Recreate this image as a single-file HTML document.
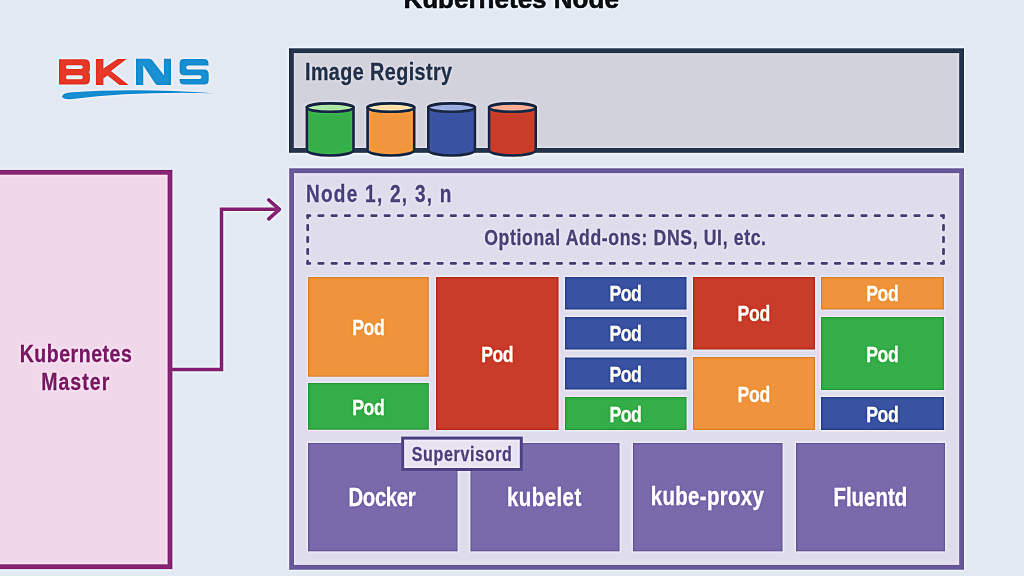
<!DOCTYPE html>
<html><head><meta charset="utf-8">
<style>
html,body{margin:0;padding:0;}
body{width:1024px;height:576px;overflow:hidden;position:relative;background:#e3e9f3;}
svg{position:absolute;left:0;top:0;}
text{font-family:"Liberation Sans",sans-serif;font-weight:bold;}
</style></head>
<body>
<svg width="1024" height="576" viewBox="0 0 1024 576">
<defs><filter id="sh" x="-40" y="-40" width="1104" height="656" filterUnits="userSpaceOnUse" color-interpolation-filters="sRGB"><feGaussianBlur in="SourceGraphic" stdDeviation="0.45" result="s"/><feGaussianBlur in="s" stdDeviation="1.6" result="b"/><feComposite in="s" in2="b" operator="arithmetic" k1="0" k2="1.3" k3="-0.3" k4="0"/></filter></defs>
<g filter="url(#sh)">
<rect x="-40" y="-40" width="1104" height="656" fill="#e3e9f3"/>
<path fill="#e63a2a" fill-rule="evenodd" d="M59 59.3 H84.5 Q89.9 59.3 89.9 64.5 V69.5 Q89.9 72 88.3 72 Q89.9 72 89.9 74.5 V79.4 Q89.9 84.6 84.5 84.6 H59 Z M67.8 65.2 Q65.9 65.2 65.9 67.1 Q65.9 69 67.8 69 H80.8 Q82.8 69 82.8 67.1 Q82.8 65.2 80.8 65.2 Z M67.8 75.3 Q65.9 75.3 65.9 77.3 Q65.9 79.3 67.8 79.3 H80.8 Q82.8 79.3 82.8 77.3 Q82.8 75.3 80.8 75.3 Z"/>
<path fill="#e63a2a" d="M95.9 59 H103.4 V68.5 L117.5 59 H126.5 L111 71 L128.5 84.9 H119.5 L107.5 75.5 L103.4 78.5 V84.9 H95.9 Z"/>
<path fill="#1b90d2" d="M136 58.7 H149.5 Q151.2 58.7 152.3 60.2 L163.9 75.2 V58.7 H171 V85 H158 Q156.3 85 155.2 83.5 L143.25 65.5 V85 H136 Z"/>
<path fill="#1b90d2" d="M184.5 59 H204 Q208.5 59 208.5 63.5 V65.6 H188.5 Q186.2 65.6 186.2 67.6 Q186.2 69.6 188.5 69.6 H204 Q208.7 69.6 208.7 74.3 V80 Q208.7 84.6 204 84.6 H184 Q179.6 84.6 179.6 80.2 V79 H199.5 Q201.5 79 201.5 77.1 Q201.5 75.25 199.5 75.25 H184 Q179.6 75.25 179.6 70.8 V63.4 Q179.6 59 184 59 Z"/>
<path fill="#1b90d2" d="M62 96.5 Q63 93.3 70 92.6 Q135 87.5 214 93.3 Q135 91.2 72 99.1 Q63 99.8 62 96.5 Z"/>
<rect x="-30" y="172.3" width="200" height="394.4" fill="#f0d8ea" stroke="#8b2b78" stroke-width="4.8"/>
<polyline points="172,369.4 221.5,369.4 221.5,209.3 278,209.3" fill="none" stroke="#8b2b78" stroke-width="3.5"/>
<polyline points="268.8,200 279.4,209.3 268.8,218.8" fill="none" stroke="#8b2b78" stroke-width="3.6" stroke-linecap="round" stroke-linejoin="round"/>
<rect x="291.4" y="50.7" width="670.2" height="99.7" fill="#d2d2dc" stroke="#2b3a52" stroke-width="4.8"/>
<path d="M306.90 107.60 V150.00 A23.30 5.50 0 0 0 353.50 150.00 V107.60 Z" fill="#36af4a" stroke="#22304a" stroke-width="2.60"/>
<ellipse cx="330.20" cy="107.60" rx="23.30" ry="4.20" fill="#a7dfa0" stroke="#22304a" stroke-width="2.60"/>
<path d="M367.60 107.60 V150.00 A23.30 5.50 0 0 0 414.20 150.00 V107.60 Z" fill="#f0963e" stroke="#22304a" stroke-width="2.60"/>
<ellipse cx="390.90" cy="107.60" rx="23.30" ry="4.20" fill="#fbd9a6" stroke="#22304a" stroke-width="2.60"/>
<path d="M428.30 107.60 V150.00 A23.30 5.50 0 0 0 474.90 150.00 V107.60 Z" fill="#3952a1" stroke="#22304a" stroke-width="2.60"/>
<ellipse cx="451.60" cy="107.60" rx="23.30" ry="4.20" fill="#97a8dc" stroke="#22304a" stroke-width="2.60"/>
<path d="M489.10 107.60 V150.00 A23.30 5.50 0 0 0 535.70 150.00 V107.60 Z" fill="#c93c2a" stroke="#22304a" stroke-width="2.60"/>
<ellipse cx="512.40" cy="107.60" rx="23.30" ry="4.20" fill="#f5a88f" stroke="#22304a" stroke-width="2.60"/>
<rect x="291.6" y="170.7" width="670" height="396.6" fill="#dfdcec" stroke="#6b5d9d" stroke-width="4.8"/>
<path d="M307.70 215.70 L943.50 215.70" stroke="#544d7f" stroke-width="2.8" stroke-linecap="round" fill="none" stroke-dasharray="4.300 8.946" stroke-dashoffset="2.150"/>
<path d="M307.70 263.40 L943.50 263.40" stroke="#544d7f" stroke-width="2.8" stroke-linecap="round" fill="none" stroke-dasharray="4.300 8.946" stroke-dashoffset="2.150"/>
<path d="M307.70 215.70 L307.70 263.40" stroke="#544d7f" stroke-width="2.8" stroke-linecap="round" fill="none" stroke-dasharray="4.300 7.625" stroke-dashoffset="2.150"/>
<path d="M943.50 215.70 L943.50 263.40" stroke="#544d7f" stroke-width="2.8" stroke-linecap="round" fill="none" stroke-dasharray="4.300 7.625" stroke-dashoffset="2.150"/>
<rect x="307.20" y="276.20" width="122.40" height="101.30" fill="none" stroke="rgba(255,255,255,0.15)" stroke-width="1.6"/>
<rect x="308.00" y="277.00" width="120.80" height="99.70" fill="#ef943c"/>
<rect x="308.60" y="277.60" width="119.60" height="98.50" fill="none" stroke="rgba(0,0,0,0.08)" stroke-width="1.2"/>
<rect x="307.20" y="382.20" width="122.40" height="48.30" fill="none" stroke="rgba(255,255,255,0.15)" stroke-width="1.6"/>
<rect x="308.00" y="383.00" width="120.80" height="46.70" fill="#35ae49"/>
<rect x="308.60" y="383.60" width="119.60" height="45.50" fill="none" stroke="rgba(0,0,0,0.08)" stroke-width="1.2"/>
<rect x="435.20" y="276.20" width="124.10" height="154.60" fill="none" stroke="rgba(255,255,255,0.15)" stroke-width="1.6"/>
<rect x="436.00" y="277.00" width="122.50" height="153.00" fill="#c93c2a"/>
<rect x="436.60" y="277.60" width="121.30" height="151.80" fill="none" stroke="rgba(0,0,0,0.08)" stroke-width="1.2"/>
<rect x="564.20" y="276.20" width="123.10" height="34.10" fill="none" stroke="rgba(255,255,255,0.15)" stroke-width="1.6"/>
<rect x="565.00" y="277.00" width="121.50" height="32.50" fill="#3952a1"/>
<rect x="565.60" y="277.60" width="120.30" height="31.30" fill="none" stroke="rgba(0,0,0,0.08)" stroke-width="1.2"/>
<rect x="564.20" y="316.20" width="123.10" height="34.10" fill="none" stroke="rgba(255,255,255,0.15)" stroke-width="1.6"/>
<rect x="565.00" y="317.00" width="121.50" height="32.50" fill="#3952a1"/>
<rect x="565.60" y="317.60" width="120.30" height="31.30" fill="none" stroke="rgba(0,0,0,0.08)" stroke-width="1.2"/>
<rect x="564.20" y="356.70" width="123.10" height="33.60" fill="none" stroke="rgba(255,255,255,0.15)" stroke-width="1.6"/>
<rect x="565.00" y="357.50" width="121.50" height="32.00" fill="#3952a1"/>
<rect x="565.60" y="358.10" width="120.30" height="30.80" fill="none" stroke="rgba(0,0,0,0.08)" stroke-width="1.2"/>
<rect x="564.20" y="396.20" width="123.10" height="34.60" fill="none" stroke="rgba(255,255,255,0.15)" stroke-width="1.6"/>
<rect x="565.00" y="397.00" width="121.50" height="33.00" fill="#35ae49"/>
<rect x="565.60" y="397.60" width="120.30" height="31.80" fill="none" stroke="rgba(0,0,0,0.08)" stroke-width="1.2"/>
<rect x="692.20" y="276.20" width="123.60" height="74.10" fill="none" stroke="rgba(255,255,255,0.15)" stroke-width="1.6"/>
<rect x="693.00" y="277.00" width="122.00" height="72.50" fill="#c93c2a"/>
<rect x="693.60" y="277.60" width="120.80" height="71.30" fill="none" stroke="rgba(0,0,0,0.08)" stroke-width="1.2"/>
<rect x="692.20" y="356.20" width="123.60" height="74.60" fill="none" stroke="rgba(255,255,255,0.15)" stroke-width="1.6"/>
<rect x="693.00" y="357.00" width="122.00" height="73.00" fill="#ef943c"/>
<rect x="693.60" y="357.60" width="120.80" height="71.80" fill="none" stroke="rgba(0,0,0,0.08)" stroke-width="1.2"/>
<rect x="820.20" y="276.20" width="124.60" height="34.10" fill="none" stroke="rgba(255,255,255,0.15)" stroke-width="1.6"/>
<rect x="821.00" y="277.00" width="123.00" height="32.50" fill="#ef943c"/>
<rect x="821.60" y="277.60" width="121.80" height="31.30" fill="none" stroke="rgba(0,0,0,0.08)" stroke-width="1.2"/>
<rect x="820.20" y="316.20" width="124.60" height="74.60" fill="none" stroke="rgba(255,255,255,0.15)" stroke-width="1.6"/>
<rect x="821.00" y="317.00" width="123.00" height="73.00" fill="#35ae49"/>
<rect x="821.60" y="317.60" width="121.80" height="71.80" fill="none" stroke="rgba(0,0,0,0.08)" stroke-width="1.2"/>
<rect x="820.20" y="396.20" width="124.60" height="34.60" fill="none" stroke="rgba(255,255,255,0.15)" stroke-width="1.6"/>
<rect x="821.00" y="397.00" width="123.00" height="33.00" fill="#3952a1"/>
<rect x="821.60" y="397.60" width="121.80" height="31.80" fill="none" stroke="rgba(0,0,0,0.08)" stroke-width="1.2"/>
<rect x="307.20" y="442.20" width="151.10" height="109.90" fill="none" stroke="rgba(255,255,255,0.15)" stroke-width="1.6"/>
<rect x="308.00" y="443.00" width="149.50" height="108.30" fill="#7a6aac"/>
<rect x="308.60" y="443.60" width="148.30" height="107.10" fill="none" stroke="rgba(0,0,0,0.08)" stroke-width="1.2"/>
<rect x="469.70" y="442.20" width="150.60" height="109.90" fill="none" stroke="rgba(255,255,255,0.15)" stroke-width="1.6"/>
<rect x="470.50" y="443.00" width="149.00" height="108.30" fill="#7a6aac"/>
<rect x="471.10" y="443.60" width="147.80" height="107.10" fill="none" stroke="rgba(0,0,0,0.08)" stroke-width="1.2"/>
<rect x="632.20" y="442.20" width="151.10" height="109.90" fill="none" stroke="rgba(255,255,255,0.15)" stroke-width="1.6"/>
<rect x="633.00" y="443.00" width="149.50" height="108.30" fill="#7a6aac"/>
<rect x="633.60" y="443.60" width="148.30" height="107.10" fill="none" stroke="rgba(0,0,0,0.08)" stroke-width="1.2"/>
<rect x="795.20" y="442.20" width="150.60" height="109.90" fill="none" stroke="rgba(255,255,255,0.15)" stroke-width="1.6"/>
<rect x="796.00" y="443.00" width="149.00" height="108.30" fill="#7a6aac"/>
<rect x="796.60" y="443.60" width="147.80" height="107.10" fill="none" stroke="rgba(0,0,0,0.08)" stroke-width="1.2"/>
<rect x="402.65" y="438.1" width="118.65" height="31.4" fill="#e6e2f1" stroke="#574b8b" stroke-width="3"/>
<text transform="translate(403.38 8.30) scale(1.0000 1)" font-size="26.00" fill="#16191e" stroke="#16191e" stroke-width="0.60" textLength="215.51" lengthAdjust="spacing">Kubernetes Node</text>
<text transform="translate(305.00 80.00) scale(0.8000 1)" font-size="24.64" fill="#2f3d55" stroke="#2f3d55" stroke-width="0.30" textLength="183.81" lengthAdjust="spacing">Image Registry</text>
<text transform="translate(305.99 201.80) scale(0.8000 1)" font-size="23.77" fill="#534d85" stroke="#534d85" stroke-width="0.30" textLength="181.84" lengthAdjust="spacing">Node 1, 2, 3, n</text>
<text transform="translate(484.25 244.60) scale(0.8000 1)" font-size="22.03" fill="#554e81" stroke="#554e81" stroke-width="0.30" textLength="352.17" lengthAdjust="spacing">Optional Add-ons: DNS, UI, etc.</text>
<text transform="translate(352.21 335.10) scale(0.8000 1)" font-size="22.03" fill="#fdf8ee" stroke="#fdf8ee" stroke-width="0.30" textLength="40.72" lengthAdjust="spacing">Pod</text>
<text transform="translate(352.21 414.85) scale(0.8000 1)" font-size="22.03" fill="#fdf8ee" stroke="#fdf8ee" stroke-width="0.30" textLength="40.72" lengthAdjust="spacing">Pod</text>
<text transform="translate(481.17 361.60) scale(0.8000 1)" font-size="22.03" fill="#fdf8ee" stroke="#fdf8ee" stroke-width="0.30" textLength="40.36" lengthAdjust="spacing">Pod</text>
<text transform="translate(609.49 301.35) scale(0.8000 1)" font-size="22.03" fill="#fdf8ee" stroke="#fdf8ee" stroke-width="0.30" textLength="40.33" lengthAdjust="spacing">Pod</text>
<text transform="translate(609.49 341.35) scale(0.8000 1)" font-size="22.03" fill="#fdf8ee" stroke="#fdf8ee" stroke-width="0.30" textLength="40.33" lengthAdjust="spacing">Pod</text>
<text transform="translate(609.49 381.60) scale(0.8000 1)" font-size="22.03" fill="#fdf8ee" stroke="#fdf8ee" stroke-width="0.30" textLength="40.33" lengthAdjust="spacing">Pod</text>
<text transform="translate(609.49 421.60) scale(0.8000 1)" font-size="22.03" fill="#fdf8ee" stroke="#fdf8ee" stroke-width="0.30" textLength="40.33" lengthAdjust="spacing">Pod</text>
<text transform="translate(737.51 321.35) scale(0.8000 1)" font-size="22.03" fill="#fdf8ee" stroke="#fdf8ee" stroke-width="0.30" textLength="41.04" lengthAdjust="spacing">Pod</text>
<text transform="translate(737.51 401.60) scale(0.8000 1)" font-size="22.03" fill="#fdf8ee" stroke="#fdf8ee" stroke-width="0.30" textLength="41.04" lengthAdjust="spacing">Pod</text>
<text transform="translate(866.21 301.35) scale(0.8000 1)" font-size="22.03" fill="#fdf8ee" stroke="#fdf8ee" stroke-width="0.30" textLength="40.72" lengthAdjust="spacing">Pod</text>
<text transform="translate(866.21 361.60) scale(0.8000 1)" font-size="22.03" fill="#fdf8ee" stroke="#fdf8ee" stroke-width="0.30" textLength="40.72" lengthAdjust="spacing">Pod</text>
<text transform="translate(866.21 421.60) scale(0.8000 1)" font-size="22.03" fill="#fdf8ee" stroke="#fdf8ee" stroke-width="0.30" textLength="40.72" lengthAdjust="spacing">Pod</text>
<text transform="translate(19.63 362.40) scale(0.8000 1)" font-size="24.35" fill="#83276f" stroke="#83276f" stroke-width="0.30" textLength="140.24" lengthAdjust="spacing">Kubernetes</text>
<text transform="translate(41.13 390.40) scale(0.8000 1)" font-size="24.35" fill="#83276f" stroke="#83276f" stroke-width="0.30" textLength="85.12" lengthAdjust="spacing">Master</text>
<text transform="translate(348.43 505.80) scale(0.8000 1)" font-size="25.51" fill="#fbf9ff" stroke="#fbf9ff" stroke-width="0.30" textLength="84.16" lengthAdjust="spacing">Docker</text>
<text transform="translate(506.95 505.50) scale(0.8000 1)" font-size="25.51" fill="#fbf9ff" stroke="#fbf9ff" stroke-width="0.30" textLength="92.85" lengthAdjust="spacing">kubelet</text>
<text transform="translate(650.75 505.40) scale(0.8000 1)" font-size="25.51" fill="#fbf9ff" stroke="#fbf9ff" stroke-width="0.30" textLength="141.38" lengthAdjust="spacing">kube-proxy</text>
<text transform="translate(833.42 505.50) scale(0.8000 1)" font-size="25.51" fill="#fbf9ff" stroke="#fbf9ff" stroke-width="0.30" textLength="92.20" lengthAdjust="spacing">Fluentd</text>
<text transform="translate(411.71 460.60) scale(0.8000 1)" font-size="20.00" fill="#5a4f88" stroke="#5a4f88" stroke-width="0.30" textLength="125.21" lengthAdjust="spacing">Supervisord</text>
</g>
</svg>
</body></html>
